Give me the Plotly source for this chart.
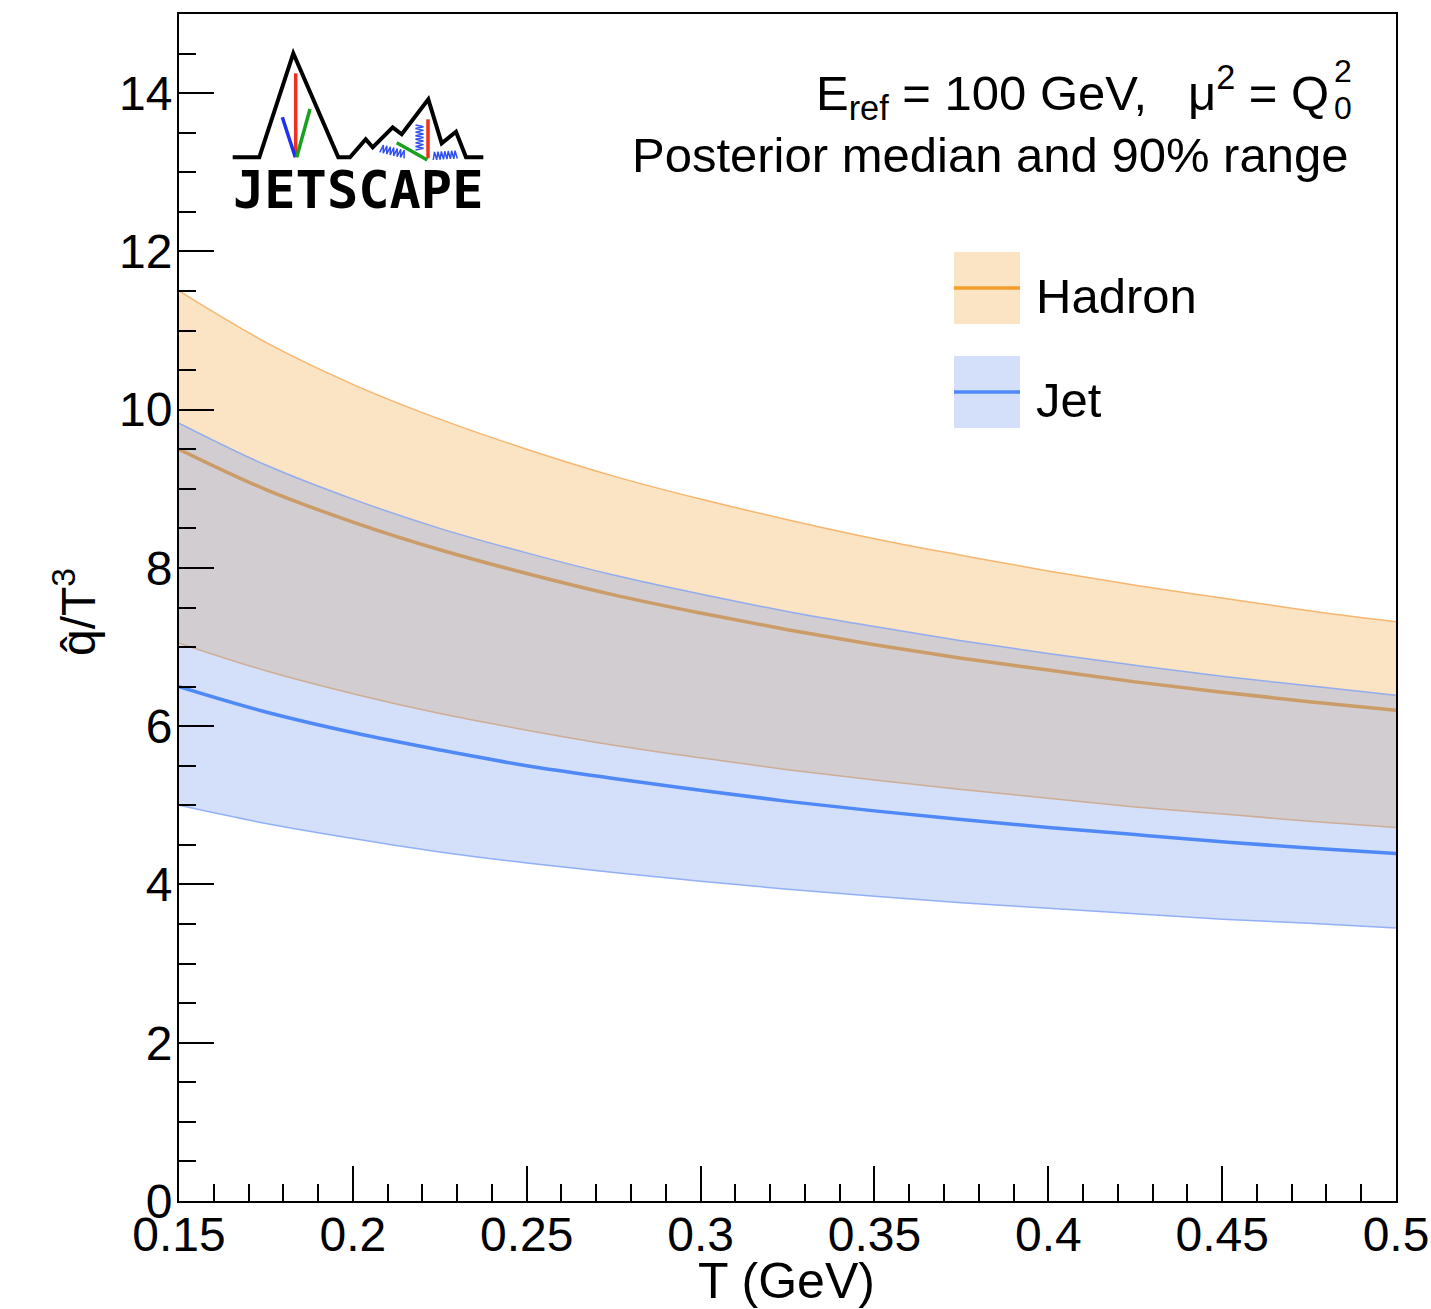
import plotly.graph_objects as go

# ---------------- data ----------------
T = [0.15, 0.175, 0.2, 0.225, 0.25, 0.275, 0.3, 0.325, 0.35, 0.375, 0.4, 0.425, 0.45, 0.475, 0.5]

hadron_upper = [11.50, 10.85, 10.32, 9.88, 9.50, 9.16, 8.87, 8.61, 8.37, 8.16, 7.96, 7.78, 7.62, 7.46, 7.32]
hadron_median = [9.50, 8.99, 8.58, 8.23, 7.93, 7.66, 7.43, 7.22, 7.03, 6.86, 6.71, 6.56, 6.43, 6.31, 6.20]
hadron_lower = [7.05, 6.70, 6.41, 6.16, 5.95, 5.76, 5.60, 5.45, 5.32, 5.20, 5.09, 4.98, 4.89, 4.80, 4.72]

jet_upper = [9.83, 9.30, 8.87, 8.50, 8.19, 7.91, 7.67, 7.45, 7.26, 7.08, 6.92, 6.77, 6.63, 6.51, 6.39]
jet_median = [6.50, 6.18, 5.92, 5.70, 5.50, 5.34, 5.19, 5.05, 4.93, 4.82, 4.72, 4.63, 4.54, 4.46, 4.39]
jet_lower = [5.00, 4.77, 4.58, 4.41, 4.27, 4.15, 4.04, 3.94, 3.85, 3.77, 3.70, 3.63, 3.56, 3.51, 3.45]

series_names = ["Hadron", "Jet"]

# ---------------- layout geometry ----------------
W, H = 1431, 1309
L, R, TOP, B = 179, 1396, 14, 1201
FONT = "Liberation Sans, Arial, Helvetica, sans-serif"


def px(x):
    return (x - L) / (R - L)


def py(y):
    return (B - y) / (B - TOP)


HAD_FILL = "rgba(242,165,55,0.30)"
JET_FILL = "rgba(112,152,238,0.30)"
HAD_EDGE = "rgba(244,172,92,0.85)"
JET_EDGE = "rgba(130,165,245,0.85)"
HAD_LINE = "#F29E2E"
JET_LINE = "#4F88F7"

fig = go.Figure()

# Hadron band
fig.add_trace(go.Scatter(x=T, y=hadron_lower, mode="lines",
                         line=dict(color=HAD_EDGE, width=1.5, shape="spline"),
                         showlegend=False, hoverinfo="skip"))
fig.add_trace(go.Scatter(x=T, y=hadron_upper, mode="lines", fill="tonexty", fillcolor=HAD_FILL,
                         line=dict(color=HAD_EDGE, width=1.5, shape="spline"),
                         showlegend=False, hoverinfo="skip"))
fig.add_trace(go.Scatter(x=T, y=hadron_median, mode="lines",
                         line=dict(color=HAD_LINE, width=3.5, shape="spline"),
                         name=series_names[0], showlegend=False))
# Jet band
fig.add_trace(go.Scatter(x=T, y=jet_lower, mode="lines",
                         line=dict(color=JET_EDGE, width=1.5, shape="spline"),
                         showlegend=False, hoverinfo="skip"))
fig.add_trace(go.Scatter(x=T, y=jet_upper, mode="lines", fill="tonexty", fillcolor=JET_FILL,
                         line=dict(color=JET_EDGE, width=1.5, shape="spline"),
                         showlegend=False, hoverinfo="skip"))
fig.add_trace(go.Scatter(x=T, y=jet_median, mode="lines",
                         line=dict(color=JET_LINE, width=3.5, shape="spline"),
                         name=series_names[1], showlegend=False))

axis_common = dict(
    showgrid=False, zeroline=False, showline=True, linewidth=2, linecolor="black",
    mirror=True, ticks="inside", tickwidth=2, tickcolor="black", automargin=False,
    ticklabeloverflow="allow",
    tickfont=dict(family=FONT, size=48, color="black"),
)
fig.update_xaxes(range=[0.15, 0.5], dtick=0.05, tick0=0, ticklen=35, ticklabelstandoff=-10,
                 minor=dict(dtick=0.01, ticks="inside", ticklen=17, tickwidth=2, tickcolor="black"),
                 **axis_common)
fig.update_yaxes(range=[0, 15], dtick=2, tick0=0, ticklen=35, ticklabelstandoff=-5,
                 minor=dict(dtick=0.5, ticks="inside", ticklen=17, tickwidth=2, tickcolor="black"),
                 **axis_common)

shapes = []
annotations = []

# axis titles
annotations.append(dict(text="T (GeV)", x=px(877), y=py(1281), xref="paper", yref="paper",
                        xanchor="right", yanchor="middle", showarrow=False,
                        font=dict(family=FONT, size=50, color="black")))
annotations.append(dict(text="q\u0302/T<sup>3</sup>", x=px(75), y=py(612), xref="paper", yref="paper",
                        xanchor="center", yanchor="middle", textangle=-90, showarrow=False,
                        font=dict(family=FONT, size=48, color="black")))

# top-right text
annotations.append(dict(text="E<sub>ref</sub> = 100 GeV,\u00a0\u00a0\u00a0\u03bc<sup>2</sup> = Q",
                        x=px(1331), y=py(92), xref="paper", yref="paper",
                        xanchor="right", yanchor="middle", showarrow=False,
                        font=dict(family=FONT, size=49, color="black")))
annotations.append(dict(text="2", x=px(1332), y=py(71), xref="paper", yref="paper",
                        xanchor="left", yanchor="middle", showarrow=False,
                        font=dict(family=FONT, size=32, color="black")))
annotations.append(dict(text="0", x=px(1332), y=py(108), xref="paper", yref="paper",
                        xanchor="left", yanchor="middle", showarrow=False,
                        font=dict(family=FONT, size=32, color="black")))
annotations.append(dict(text="Posterior median and 90% range",
                        x=px(1350), y=py(155), xref="paper", yref="paper",
                        xanchor="right", yanchor="middle", showarrow=False,
                        font=dict(family=FONT, size=49, color="black")))

# manual legend
legend_rows = [(series_names[0], 252, 324, HAD_FILL, HAD_LINE), (series_names[1], 356, 428, JET_FILL, JET_LINE)]
for name, y0, y1, fillc, linec in legend_rows:
    shapes.append(dict(type="rect", xref="paper", yref="paper", x0=px(954), x1=px(1020),
                       y0=py(y1), y1=py(y0), fillcolor=fillc, line=dict(width=0), layer="above"))
    ym = (y0 + y1) / 2
    shapes.append(dict(type="line", xref="paper", yref="paper", x0=px(954), x1=px(1020),
                       y0=py(ym), y1=py(ym), line=dict(color=linec, width=3.5), layer="above"))
    annotations.append(dict(text=name, x=px(1034), y=py(ym + 8), xref="paper", yref="paper",
                            xanchor="left", yanchor="middle", showarrow=False,
                            font=dict(family=FONT, size=49, color="black")))


# ---------------- JETSCAPE logo (decoration) ----------------
def path_from(points, close=False):
    s = "M " + " L ".join(f"{px(x):.5f},{py(y):.5f}" for x, y in points)
    return s + (" Z" if close else "")


mountain = [(232.7, 157.3), (259.3, 157.3), (293.3, 53.3), (338.3, 157.3), (350, 157.3),
            (365.7, 139.3), (372.7, 147.3), (392.7, 127.3), (401.7, 134.3), (428.3, 99.3),
            (441.7, 143.3), (456, 131.7), (466, 157.3), (483.3, 157.3)]
shapes.append(dict(type="path", xref="paper", yref="paper", path=path_from(mountain),
                   line=dict(color="black", width=4), layer="above"))

logo_lines = [((295.7, 73.3), (295.7, 157.3), "#F0301E"),
              ((282.3, 117.3), (295.3, 157.3), "#2030F0"),
              ((310.0, 109.0), (296.7, 157.3), "#18A020"),
              ((428.0, 119.3), (428.0, 158.3), "#F0301E"),
              ((396.7, 142.7), (427.3, 160.0), "#18A020")]
for (x0, y0), (x1, y1), c in logo_lines:
    shapes.append(dict(type="line", xref="paper", yref="paper", x0=px(x0), y0=py(y0),
                       x1=px(x1), y1=py(y1), line=dict(color=c, width=3.5), layer="above"))


def spring(x0, y0, x1, y1, n, amp):
    pts = []
    dx, dy = x1 - x0, y1 - y0
    ln = (dx * dx + dy * dy) ** 0.5
    nx, ny = -dy / ln, dx / ln
    steps = 2 * n
    for i in range(steps + 1):
        t = i / steps
        s = amp if i % 2 == 0 else -amp
        pts.append((x0 + dx * t + nx * s, y0 + dy * t + ny * s))
    return pts


for (x0, y0, x1, y1, n) in [(380.7, 148.5, 405.0, 154.5, 7), (419.5, 125.0, 419.5, 150.0, 7),
                            (433.0, 156.0, 457.0, 154.5, 7)]:
    shapes.append(dict(type="path", xref="paper", yref="paper", path=path_from(spring(x0, y0, x1, y1, n, 4)),
                       line=dict(color="#3050F0", width=1.5), layer="above"))

annotations.append(dict(text="<b>JETSCAPE</b>", x=px(358), y=py(190), xref="paper", yref="paper",
                        xanchor="center", yanchor="middle", showarrow=False,
                        font=dict(family="DejaVu Sans Mono", size=52, color="black")))

fig.update_layout(
    width=W, height=H, autosize=False,
    margin=dict(l=L, r=W - R, t=TOP, b=H - B, pad=0, autoexpand=False),
    paper_bgcolor="white", plot_bgcolor="white",
    showlegend=False,
    shapes=shapes, annotations=annotations,
    font=dict(family=FONT, color="black"),
)

fig.write_html("out.html", config={"displayModeBar": False},
               post_script="document.body.style.margin='0';document.body.style.overflow='hidden';")
